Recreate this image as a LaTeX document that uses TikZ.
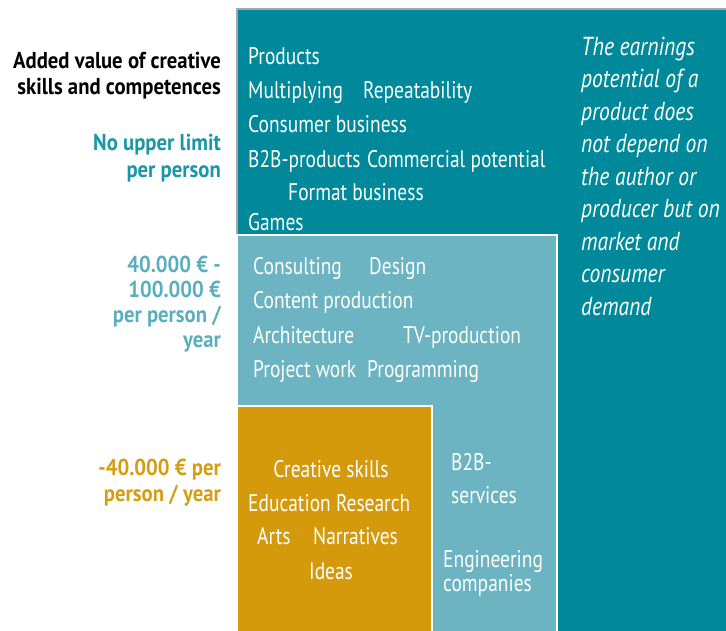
\documentclass[tikz,border=0pt]{standalone}
\usepackage{fontspec}
\setmainfont{PT Sans}[FakeStretch=0.81]
\newfontfamily\labfont{PT Sans}[FakeStretch=0.9]
\newfontfamily\notefont{PT Sans}[FakeStretch=0.83]
\definecolor{darkteal}{HTML}{00899B}
\definecolor{lightteal}{HTML}{6CB4C2}
\definecolor{goldbox}{HTML}{D49A0B}
\definecolor{labteal}{HTML}{1A96A6}
\definecolor{lablight}{HTML}{5AAEBE}
\definecolor{labgold}{HTML}{D69C12}
\begin{document}
\begin{tikzpicture}[x=1pt,y=-1pt,
  box/.style={rectangle,anchor=north west,inner sep=0pt,line width=1.5pt},
  item/.style={anchor=base west,inner sep=0pt,text=white,font=\fontsize{24}{29}\selectfont},
  lab/.style={anchor=base east,inner sep=0pt,font=\labfont\bfseries\fontsize{23}{27}\selectfont},
  note/.style={anchor=base west,inner sep=0pt,text=white,font=\notefont\itshape\fontsize{26}{31}\selectfont}]
\useasboundingbox (0,0) rectangle (726,630);
% boxes
\node[box,fill=darkteal,draw=gray!70,minimum width=495pt,minimum height=628pt] (dark) at (236,8) {};
\node[box,fill=lightteal,draw=white,minimum width=320pt,minimum height=400pt] (light) at (236,234) {};
\node[box,fill=goldbox,draw=white,minimum width=195pt,minimum height=230pt] (gold) at (236,405) {};
% left labels
\node[lab,text=black] (l1) at (221,68) {Added value of creative};
\node[lab,text=black] (l2) at (221,94) {skills and competences};
\node[lab,text=labteal] (l3) at (221,150) {No upper limit};
\node[lab,text=labteal] (l4) at (221,177) {per person};
\node[lab,text=lablight] (l5) at (221,272) {40.000 € -};
\node[lab,text=lablight] (l6) at (221,297) {100.000 €};
\node[lab,text=lablight] (l7) at (221,322) {per person /};
\node[lab,text=lablight] (l8) at (221,347) {year};
\node[lab,text=labgold] (l9) at (221,475) {-40.000 € per};
\node[lab,text=labgold] (l10) at (221,501) {person / year};
% dark box items
\node[item] (d1) at (248,64) {Products};
\node[item] (d2) at (248,98) {Multiplying};
\node[item] (d3) at (363,98) {Repeatability};
\node[item] (d4) at (248,132) {Consumer business};
\node[item] (d5) at (248,167) {B2B-products};
\node[item] (d6) at (367,167) {Commercial potential};
\node[item] (d7) at (288,200) {Format business};
\node[item] (d8) at (248,230) {Games};
% light box items
\node[item] (c1) at (253,274) {Consulting};
\node[item] (c2) at (369,274) {Design};
\node[item] (c3) at (253,308) {Content production};
\node[item] (c4) at (253,343) {Architecture};
\node[item] (c5) at (403,343) {TV-production};
\node[item] (c6) at (253,377) {Project work};
\node[item] (c7) at (367,377) {Programming};
% gold items
\node[item,anchor=base] (g1) at (331,477) {Creative skills};
\node[item] (g2) at (248,511) {Education Research};
\node[item] (g3) at (257,544) {Arts};
\node[item] (g4) at (313,544) {Narratives};
\node[item,anchor=base] (g5) at (331,579) {Ideas};
% light right items
\node[item] (b1) at (451,470) {B2B-};
\node[item] (b2) at (451,503) {services};
\node[item] (b3) at (443,567) {Engineering};
\node[item] (b4) at (443,591) {companies};
% italic note
\foreach \t [count=\i] in {The earnings,potential of a,product does,not depend on,the author or,producer but on,market and,consumer,demand}
  \node[note] (n\i) at (581,{55+32.5*(\i-1)}) {\t};
\end{tikzpicture}
\end{document}
